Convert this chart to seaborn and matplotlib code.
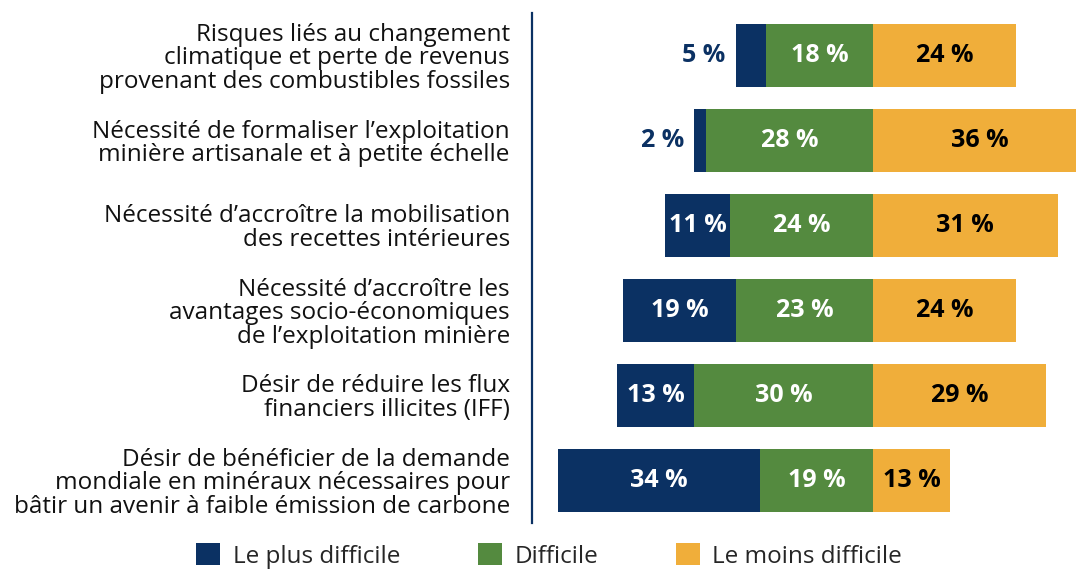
import matplotlib
matplotlib.use("Agg")
import matplotlib.pyplot as plt
import seaborn as sns
import pandas as pd
from matplotlib.patches import Patch

categories = [
    "Risques liés au changement\nclimatique et perte de revenus\nprovenant des combustibles fossiles",
    "Nécessité de formaliser l’exploitation\nminière artisanale et à petite échelle",
    "Nécessité d’accroître la mobilisation\ndes recettes intérieures",
    "Nécessité d’accroître les\navantages socio-économiques\nde l’exploitation minière",
    "Désir de réduire les flux\nfinanciers illicites (IFF)",
    "Désir de bénéficier de la demande\nmondiale en minéraux nécessaires pour\nbâtir un avenir à faible émission de carbone",
]
le_plus_difficile = [5, 2, 11, 19, 13, 34]
difficile = [18, 28, 24, 23, 30, 19]
le_moins_difficile = [24, 36, 31, 24, 29, 13]
series_names = ["Le plus difficile", "Difficile", "Le moins difficile"]

NAVY = "#0B3163"
GREEN = "#548A3F"
YELLOW = "#F0AE3A"

sns.set_style("white")
plt.rcParams["font.family"] = ["Open Sans", "DejaVu Sans"]

df = pd.DataFrame({
    "cat": categories,
    "navy": le_plus_difficile,
    "green": difficile,
    "yellow": le_moins_difficile,
})
df["left_total"] = -(df["navy"] + df["green"])
df["green_neg"] = -df["green"]

fig = plt.figure(figsize=(10.76, 5.69), dpi=100)
ax = fig.add_axes([532 / 1076, 46 / 569, 1 - 532 / 1076, (523 - 13) / 569])

W = 0.73
sns.barplot(data=df, x="left_total", y="cat", order=categories, orient="h",
            color=NAVY, width=W, saturation=1, ax=ax, errorbar=None)
sns.barplot(data=df, x="green_neg", y="cat", order=categories, orient="h",
            color=GREEN, width=W, saturation=1, ax=ax, errorbar=None)
sns.barplot(data=df, x="yellow", y="cat", order=categories, orient="h",
            color=YELLOW, width=W, saturation=1, ax=ax, errorbar=None)
for p in ax.patches:
    p.set_linewidth(0)

ax.set_xlim(-57.3, 34.1)
ax.set_ylim(len(categories) - 0.5, -0.5)
ax.set_xlabel("")
ax.set_ylabel("")
ax.set_xticks([])
ax.tick_params(axis="y", length=0, pad=16, labelsize=17.5, labelcolor="#111111")
for lab in ax.get_yticklabels():
    lab.set_linespacing(0.98)
for s in ["top", "right", "bottom"]:
    ax.spines[s].set_visible(False)
ax.spines["left"].set_color(NAVY)
ax.spines["left"].set_linewidth(1.6)

fs = 18
for i, (n, g, y) in enumerate(zip(le_plus_difficile, difficile, le_moins_difficile)):
    left = -(n + g)
    if n < 8:
        ax.text(left - 1.8, i, f"{n} %", ha="right", va="center", color=NAVY,
                fontsize=fs, fontweight="bold")
    else:
        ax.text(left + n / 2, i, f"{n} %", ha="center", va="center", color="white",
                fontsize=fs, fontweight="bold")
    ax.text(-g / 2, i, f"{g} %", ha="center", va="center", color="white",
            fontsize=fs, fontweight="bold")
    ax.text(y / 2, i, f"{y} %", ha="center", va="center", color="black",
            fontsize=fs, fontweight="bold")

handles = [Patch(facecolor=c, edgecolor="none") for c in [NAVY, GREEN, YELLOW]]
fig.legend(handles, series_names, loc="center", bbox_to_anchor=(549 / 1076, 1 - 556 / 569),
           ncol=3, frameon=False, fontsize=17.5, handlelength=1.0, handleheight=1.0,
           handletextpad=0.5, columnspacing=3.2, borderpad=0, borderaxespad=0)

fig.savefig("out.png", dpi=100)
